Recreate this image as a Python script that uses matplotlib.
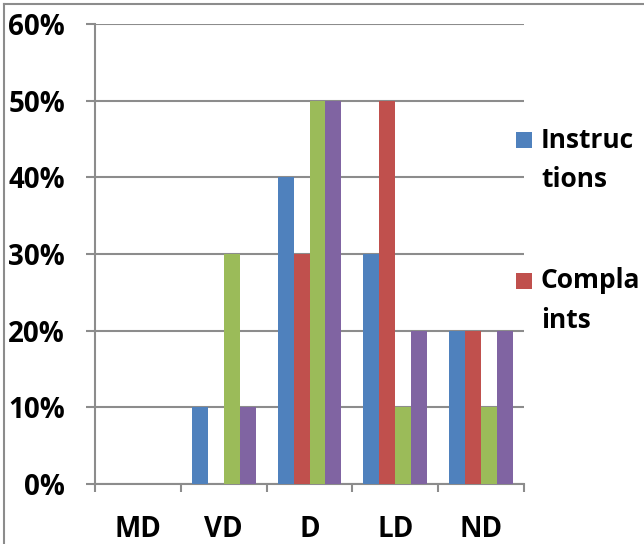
import numpy as np
import matplotlib.pyplot as plt
from matplotlib.lines import Line2D
from matplotlib.patches import Rectangle

categories = ["MD", "VD", "D", "LD", "ND"]
instructions = [0, 10, 40, 30, 20]
complaints = [0, 0, 30, 50, 20]
series3 = [0, 30, 50, 10, 10]
series4 = [0, 10, 50, 20, 20]
series_labels = ["Instruc\ntions", "Compla\nints", "Series 3", "Series 4"]
colors = ["#4f81bd", "#c0504d", "#9bbb59", "#8064a2"]

plt.rcParams['font.family'] = ['Open Sans', 'DejaVu Sans']
plt.rcParams['font.weight'] = 'bold'

W, H = 644, 544
fig = plt.figure(figsize=(W / 100, H / 100), dpi=100)
ax = fig.add_axes([95 / W, 1 - 484 / H, (524 - 95) / W, (484 - 24) / H])

# outer chart frame (left and top edges)
frame = "#8c8c8c"
fig.add_artist(Line2D([4 / W, 4 / W], [0, 1 - 4 / H], color=frame, lw=1.5, transform=fig.transFigure))
fig.add_artist(Line2D([4 / W, 1], [1 - 4 / H, 1 - 4 / H], color=frame, lw=1.5, transform=fig.transFigure))

x = np.arange(len(categories))
w = 0.186
data = [instructions, complaints, series3, series4]
for i, vals in enumerate(data):
    ax.bar(x + (i - 1.5) * w, vals, w, color=colors[i], label=series_labels[i], zorder=3)

ax.set_xlim(-0.5, len(categories) - 0.5)
ax.set_ylim(0, 60)
ax.set_yticks(np.arange(0, 61, 10))
ax.set_yticklabels([f"{v}%" for v in range(0, 61, 10)])
ax.yaxis.grid(True, color=frame, linewidth=1.5, zorder=0)
ax.set_axisbelow(True)

ax.set_xticks(np.arange(-0.5, len(categories), 1.0))
ax.set_xticklabels([])
ax.set_xticks(x, minor=True)
ax.set_xticklabels(categories, minor=True)
ax.tick_params(axis='x', which='major', length=6, width=1.5, color=frame, direction='out')
ax.tick_params(axis='x', which='minor', length=0, pad=22, labelsize=20)
ax.tick_params(axis='y', length=6.5, width=1.5, color=frame, pad=15, labelsize=20)

for s in ["top", "right"]:
    ax.spines[s].set_visible(False)
for s in ["left", "bottom"]:
    ax.spines[s].set_color(frame)
    ax.spines[s].set_linewidth(1.5)

# legend entries (only the first two fit in the visible area)
for i, (ytop, ybot) in enumerate([(140, 180), (281, 321)]):
    sq = 16
    fig.add_artist(Rectangle((516 / W, 1 - (ytop + sq / 2) / H), sq / W, sq / H,
                             facecolor=colors[i], edgecolor="none", transform=fig.transFigure))
    top, bottom = series_labels[i].split("\n")
    fig.text(541 / W, 1 - ytop / H, top, fontsize=19, fontweight='bold', va='center', ha='left')
    fig.text(541 / W, 1 - ybot / H, bottom, fontsize=19, fontweight='bold', va='center', ha='left')

fig.savefig("out.png", dpi=100)
